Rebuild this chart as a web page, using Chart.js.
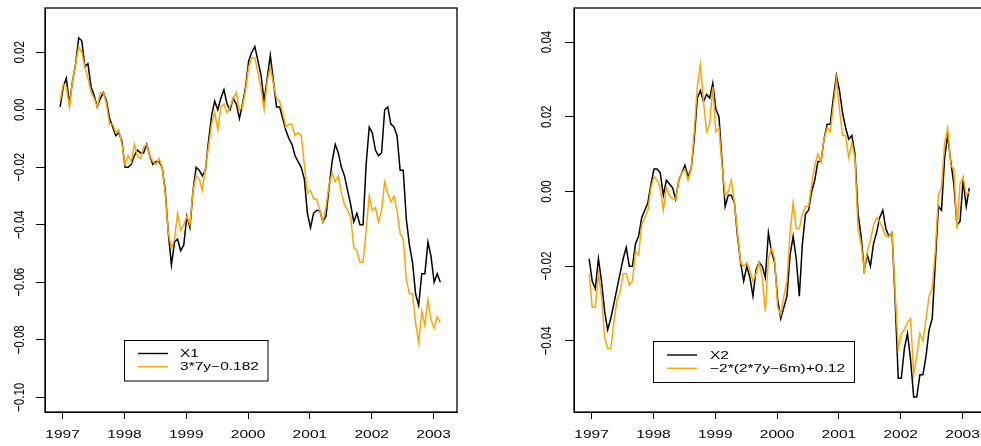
<!DOCTYPE html>
<html>
<head>
<meta charset="utf-8">
<script src="https://cdn.jsdelivr.net/npm/chart.js@4/dist/chart.umd.min.js"></script>
<style>
  html, body { margin: 0; padding: 0; background: #fff; overflow: hidden; }
  #wrap { position: relative; width: 981px; height: 446px; overflow: hidden; }
  #left { position: absolute; left: 0; top: 0; }
  #right { position: absolute; left: 490px; top: 0; }
</style>
</head>
<body>
<div id="wrap">
  <canvas id="left" width="490" height="446"></canvas>
  <canvas id="right" width="510" height="446"></canvas>
</div>
<script>
// ---- data: sampled every 0.05 year from 1996.96 ----
const startYear = 1996.96;
const stepYear = 0.05;

const yearTicks = [1997, 1998, 1999, 2000, 2001, 2002, 2003];
const leftYTicks = [-0.10, -0.08, -0.06, -0.04, -0.02, 0.00, 0.02];
const rightYTicks = [-0.04, -0.02, 0.00, 0.02, 0.04];

const leftLabels = ['X1', '3*7y\u22120.182'];
const rightLabels = ['X2', '\u22122*(2*7y\u22126m)+0.12'];

const x1 = [
  0.001, 0.008, 0.011, 0.002, 0.010, 0.016, 0.025, 0.024, 0.015, 0.016,
  0.008, 0.005, 0.001, 0.004, 0.006, 0.003, -0.003, -0.006, -0.009, -0.008,
  -0.011, -0.020, -0.020, -0.019, -0.016, -0.014, -0.015, -0.015, -0.012, -0.016,
  -0.019, -0.018, -0.018, -0.020, -0.028, -0.043, -0.054, -0.046, -0.045, -0.049,
  -0.047, -0.037, -0.041, -0.028, -0.020, -0.021, -0.023, -0.021, -0.011, -0.002,
  0.003, 0.000, 0.004, 0.007, 0.002, 0.000, 0.004, 0.002, -0.003, 0.002,
  0.008, 0.017, 0.020, 0.022, 0.017, 0.012, 0.003, 0.011, 0.019, 0.010,
  0.001, 0.001, -0.003, -0.007, -0.010, -0.012, -0.016, -0.018, -0.020, -0.024,
  -0.036, -0.041, -0.036, -0.035, -0.035, -0.039, -0.037, -0.027, -0.018, -0.012,
  -0.015, -0.020, -0.023, -0.028, -0.033, -0.039, -0.036, -0.040, -0.040, -0.019,
  -0.006, -0.008, -0.014, -0.016, -0.015, 0.000, 0.001, -0.005, -0.006, -0.009,
  -0.021, -0.021, -0.038, -0.047, -0.053, -0.064, -0.068, -0.057, -0.057, -0.046,
  -0.051, -0.060, -0.057, -0.060
];

const fit1 = [
  0.003, 0.009, 0.008, 0.001, 0.010, 0.016, 0.022, 0.020, 0.015, 0.011,
  0.006, 0.004, 0.001, 0.006, 0.006, 0.002, -0.005, -0.005, -0.008, -0.007,
  -0.012, -0.019, -0.016, -0.018, -0.012, -0.016, -0.017, -0.013, -0.012, -0.016,
  -0.018, -0.019, -0.017, -0.020, -0.029, -0.043, -0.048, -0.045, -0.036, -0.042,
  -0.040, -0.037, -0.040, -0.028, -0.023, -0.024, -0.028, -0.020, -0.013, -0.005,
  -0.001, -0.007, 0.001, 0.002, -0.001, 0.001, 0.004, 0.006, 0.000, 0.001,
  0.007, 0.015, 0.018, 0.018, 0.013, 0.007, 0.000, 0.010, 0.015, 0.009,
  0.004, 0.003, -0.001, -0.006, -0.005, -0.005, -0.009, -0.008, -0.009, -0.019,
  -0.029, -0.028, -0.031, -0.031, -0.035, -0.039, -0.034, -0.026, -0.022, -0.025,
  -0.023, -0.029, -0.033, -0.035, -0.037, -0.048, -0.049, -0.053, -0.053, -0.042,
  -0.030, -0.035, -0.034, -0.039, -0.035, -0.025, -0.029, -0.032, -0.030, -0.035,
  -0.043, -0.045, -0.059, -0.064, -0.064, -0.074, -0.081, -0.070, -0.075, -0.066,
  -0.073, -0.076, -0.072, -0.074
];

const x2 = [
  -0.018, -0.024, -0.026, -0.018, -0.024, -0.032, -0.037, -0.034, -0.030, -0.026,
  -0.022, -0.018, -0.015, -0.020, -0.020, -0.014, -0.012, -0.007, -0.005, -0.003,
  0.002, 0.006, 0.006, 0.005, -0.001, 0.003, 0.002, 0.001, -0.002, 0.003,
  0.005, 0.007, 0.004, 0.006, 0.014, 0.025, 0.027, 0.024, 0.026, 0.025,
  0.029, 0.022, 0.020, 0.008, -0.004, -0.001, -0.001, -0.003, -0.012, -0.019,
  -0.024, -0.020, -0.023, -0.028, -0.021, -0.019, -0.020, -0.023, -0.011, -0.016,
  -0.019, -0.029, -0.034, -0.031, -0.028, -0.017, -0.012, -0.018, -0.028, -0.014,
  -0.006, -0.005, 0.000, 0.003, 0.008, 0.008, 0.014, 0.018, 0.018, 0.025,
  0.031, 0.027, 0.021, 0.017, 0.014, 0.015, 0.010, -0.006, -0.012, -0.021,
  -0.017, -0.020, -0.014, -0.011, -0.007, -0.005, -0.010, -0.012, -0.011, -0.029,
  -0.050, -0.050, -0.042, -0.038, -0.045, -0.055, -0.055, -0.049, -0.049, -0.044,
  -0.037, -0.034, -0.019, -0.004, -0.005, 0.009, 0.015, 0.008, 0.002, -0.009,
  -0.008, 0.003, -0.004, 0.001
];

const fit2 = [
  -0.022, -0.031, -0.031, -0.022, -0.028, -0.039, -0.042, -0.042, -0.035, -0.029,
  -0.027, -0.022, -0.022, -0.025, -0.024, -0.016, -0.017, -0.009, -0.007, -0.005,
  0.001, 0.004, 0.003, 0.001, -0.005, 0.001, -0.001, -0.002, -0.002, 0.003,
  0.005, 0.006, 0.003, 0.006, 0.016, 0.028, 0.034, 0.024, 0.016, 0.018,
  0.028, 0.016, 0.017, 0.007, -0.001, 0.000, 0.003, -0.003, -0.011, -0.019,
  -0.020, -0.019, -0.021, -0.024, -0.022, -0.019, -0.023, -0.032, -0.018, -0.015,
  -0.018, -0.031, -0.033, -0.028, -0.024, -0.011, -0.003, -0.010, -0.010, -0.006,
  -0.004, -0.004, 0.002, 0.007, 0.010, 0.008, 0.014, 0.017, 0.016, 0.023,
  0.030, 0.022, 0.015, 0.015, 0.009, 0.013, 0.009, -0.010, -0.014, -0.021,
  -0.016, -0.013, -0.009, -0.007, -0.008, -0.010, -0.012, -0.012, -0.011, -0.027,
  -0.042, -0.038, -0.037, -0.035, -0.034, -0.049, -0.044, -0.038, -0.040, -0.034,
  -0.028, -0.026, -0.016, -0.001, 0.001, 0.013, 0.017, 0.007, 0.006, -0.010,
  0.002, 0.004, -0.001, 0.000
];

// sampling dates
const dates = x1.map((_, i) => +(startYear + i * stepYear).toFixed(2));

// ---- drawing helpers ----
const FONT = '11.5px "Liberation Sans", Arial, Helvetica, sans-serif';
const SX = 1.35; // horizontal stretch of the lettering

function putText(ctx, s, x, y, rotated) {
  ctx.save();
  ctx.translate(x, y);
  ctx.scale(SX, 1);
  if (rotated) ctx.rotate(-Math.PI / 2);
  ctx.fillText(s, 0, 0);
  ctx.restore();
}

function fmtY(v) {
  const s = Math.abs(v).toFixed(2);
  return (v < -1e-9 ? '\u2212' : '') + s;
}

// frame, tick labels and legend in the style of base graphics
const framePlugin = {
  id: 'frame',
  afterDraw(chart, args, opts) {
    const { ctx, chartArea: a } = chart;
    ctx.save();
    ctx.strokeStyle = '#000';
    ctx.lineWidth = 1.3;
    ctx.strokeRect(a.left, a.top, a.right - a.left, a.bottom - a.top);

    ctx.fillStyle = '#000';
    ctx.font = FONT;

    // x labels
    ctx.textAlign = 'center';
    ctx.textBaseline = 'alphabetic';
    const xs = chart.scales.x;
    xs.ticks.forEach(t => putText(ctx, String(t.value), xs.getPixelForValue(t.value), 437.5, false));

    // y labels (rotated)
    ctx.textBaseline = 'middle';
    const ys = chart.scales.y;
    ys.ticks.forEach(t => putText(ctx, fmtY(t.value), opts.yLabelX, ys.getPixelForValue(t.value), true));

    // legend
    const L = opts.legend;
    ctx.lineWidth = 1;
    ctx.strokeStyle = '#000';
    ctx.strokeRect(L.x, L.y, L.w, L.h);
    ctx.textAlign = 'left';
    chart.data.datasets.forEach((ds, i) => {
      const ry = L.rows[i];
      ctx.strokeStyle = ds.borderColor;
      ctx.lineWidth = 1.4;
      ctx.beginPath();
      ctx.moveTo(L.lx0, ry);
      ctx.lineTo(L.lx1, ry);
      ctx.stroke();
      ctx.fillStyle = '#000';
      putText(ctx, ds.label, L.tx, ry + 0.5, false);
    });
    ctx.restore();
  }
};

function makeChart(id, black, orange, labels, yTicks, yMin, yMax, yWidth, padRight, plugOpts) {
  const pts = arr => arr.map((v, i) => ({ x: dates[i], y: v }));
  return new Chart(document.getElementById(id), {
    type: 'line',
    data: {
      datasets: [
        { label: labels[0], data: pts(black), borderColor: '#000000', borderWidth: 1.5, pointRadius: 0, tension: 0, order: 2 },
        { label: labels[1], data: pts(orange), borderColor: '#FFA500', borderWidth: 1.5, pointRadius: 0, tension: 0, order: 1 }
      ]
    },
    options: {
      responsive: false,
      animation: false,
      devicePixelRatio: 1,
      events: [],
      layout: { padding: { top: 8, right: padRight, left: 0, bottom: 0 }, autoPadding: false },
      plugins: { legend: { display: false }, tooltip: { enabled: false }, frame: plugOpts },
      scales: {
        x: {
          type: 'linear',
          min: 1996.715,
          max: 2003.38,
          afterBuildTicks: s => { s.ticks = yearTicks.map(v => ({ value: v })); },
          afterFit: s => { s.height = 34; },
          ticks: { display: false },
          grid: { drawOnChartArea: false, drawTicks: true, tickLength: 7, color: '#000', lineWidth: 1 },
          border: { display: true, color: '#000', width: 1 }
        },
        y: {
          type: 'linear',
          min: yMin,
          max: yMax,
          afterBuildTicks: s => { s.ticks = yTicks.map(v => ({ value: v })); },
          afterFit: s => { s.width = yWidth; },
          ticks: { display: false },
          grid: { drawOnChartArea: false, drawTicks: true, tickLength: 9, color: '#000', lineWidth: 1 },
          border: { display: true, color: '#000', width: 1 }
        }
      }
    },
    plugins: [framePlugin]
  });
}

makeChart('left', x1, fit1, leftLabels, leftYTicks, -0.1051, 0.0354, 45, 33, {
  yLabelX: 20,
  legend: { x: 124.5, y: 340.5, w: 143.5, h: 40.5, lx0: 138, lx1: 168, tx: 180, rows: [353.5, 366.8] }
});

makeChart('right', x2, fit2, rightLabels, rightYTicks, -0.0590, 0.0491, 84, 14, {
  yLabelX: 57,
  legend: { x: 163.5, y: 341.5, w: 201, h: 41, lx0: 177, lx1: 207, tx: 220, rows: [355, 368.3] }
});
</script>
</body>
</html>
